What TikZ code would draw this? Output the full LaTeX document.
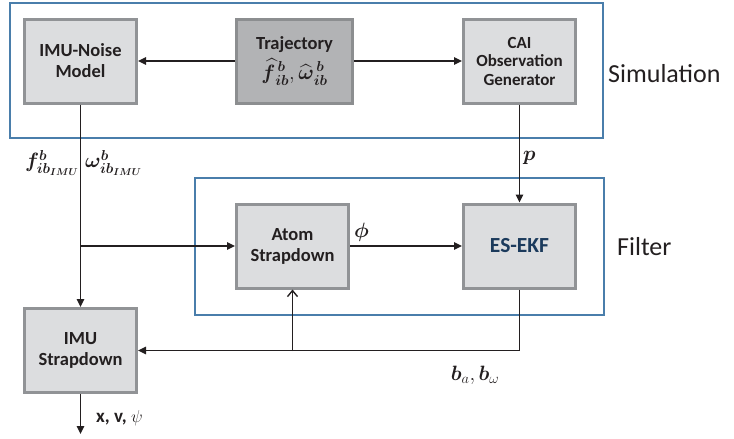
\documentclass[tikz,border=0pt]{standalone}
\usepackage{amsmath,bm}
\usepackage{fontspec}
\setmainfont{Carlito}
\usetikzlibrary{arrows.meta,positioning}
\definecolor{boxfill}{HTML}{DCDDDF}
\definecolor{boxline}{HTML}{919396}
\definecolor{trajfill}{HTML}{B2B3B5}
\definecolor{trajline}{HTML}{8C8E90}
\definecolor{groupline}{HTML}{4A7EAB}
\definecolor{txt}{HTML}{231F20}
\definecolor{navy}{HTML}{1B3A5C}
\tikzset{
  blockbox/.style={draw=boxline, fill=boxfill, line width=3pt, minimum width=112pt, minimum height=84pt,
    align=center, text=txt, font=\bfseries\fontsize{18.5}{21}\selectfont, inner sep=2pt},
  groupbox/.style={draw=groupline, line width=2.2pt},
  conn/.style={draw=txt, line width=1.4pt, -{Triangle[length=8pt,width=7.5pt]}},
  openconn/.style={draw=txt, line width=1.4pt, -{Straight Barb[length=6pt,width=10pt,line width=1.4pt]}},
  grouplabel/.style={font=\fontsize{26}{28}\selectfont, text=txt, inner sep=0pt},
  mathlabel/.style={text=txt, inner sep=0pt, font=\fontsize{20}{22}\selectfont},
}
\begin{document}
\begin{tikzpicture}[x=1pt,y=-1pt]
\useasboundingbox (0,0) rectangle (734,439);
% group boxes
\draw[groupbox] (10,3) rectangle (603,138);
\draw[groupbox] (195,178) rectangle (604,315);
\node[grouplabel, anchor=base west] (simlab) at (608,82) {Simulation};
\node[grouplabel, anchor=base west] (fillab) at (617,255) {Filter};
% blocks
\node[blockbox] (noise) at (80.5,61) {IMU-Noise\\Model};
\node[blockbox, draw=trajline, fill=trajfill, minimum width=116pt] (traj) at (294.5,61)
  {Trajectory\\[5pt]{\fontsize{22}{24}\selectfont$\widehat{\bm{f}}{}^{\,\bm b}_{\bm{ib}}, \widehat{\bm\omega}{}^{\,\bm b}_{\bm{ib}}$}};
\node[blockbox, font=\bfseries\fontsize{17}{18.5}\selectfont] (cai) at (519.5,61) {CAI\\Observation\\Generator};
\node[blockbox] (atom) at (292.5,246) {Atom\\Strapdown};
\node[blockbox, text=navy, font=\bfseries\fontsize{21.5}{24}\selectfont] (ekf) at (519.5,246) {ES-EKF};
\node[blockbox] (imus) at (80.5,350.5) {IMU\\Strapdown};
% coordinates
\coordinate (j1) at (80.5,246);
\coordinate (j2) at (292.5,351);
\coordinate (out) at (80.5,434);
% connectors
\draw[conn] (traj.west) -- (noise.east);
\draw[conn] (traj.east) -- (cai.west);
\draw[conn] (noise.south) -- (imus.north);
\draw[conn] (j1) -- (atom.west);
\draw[conn] (cai.south) -- (ekf.north);
\draw[conn] (atom.east) -- (ekf.west);
\draw[conn] (ekf.south) |- (imus.east);
\draw[openconn] (j2) -- (atom.south);
\draw[conn] (imus.south) -- (out);
% labels
\node[mathlabel, anchor=east] (flab) at (79,163) {$\bm{f^b_{ib_{IMU}}}$};
\node[mathlabel, anchor=west] (wlab) at (85,163) {$\bm{\omega^b_{ib_{IMU}}}$};
\node[mathlabel, anchor=west] (plab) at (523,158) {$\bm{p}$};
\node[mathlabel, anchor=west] (philab) at (354,232) {$\bm{\phi}$};
\node[mathlabel, anchor=center] (blab) at (475,375) {$\bm{b}_a, \bm{b}_\omega$};
\node[mathlabel, anchor=west, font=\bfseries\fontsize{19}{21}\selectfont] (xlab) at (96,418) {x, v, $\psi$};
\end{tikzpicture}
\end{document}
